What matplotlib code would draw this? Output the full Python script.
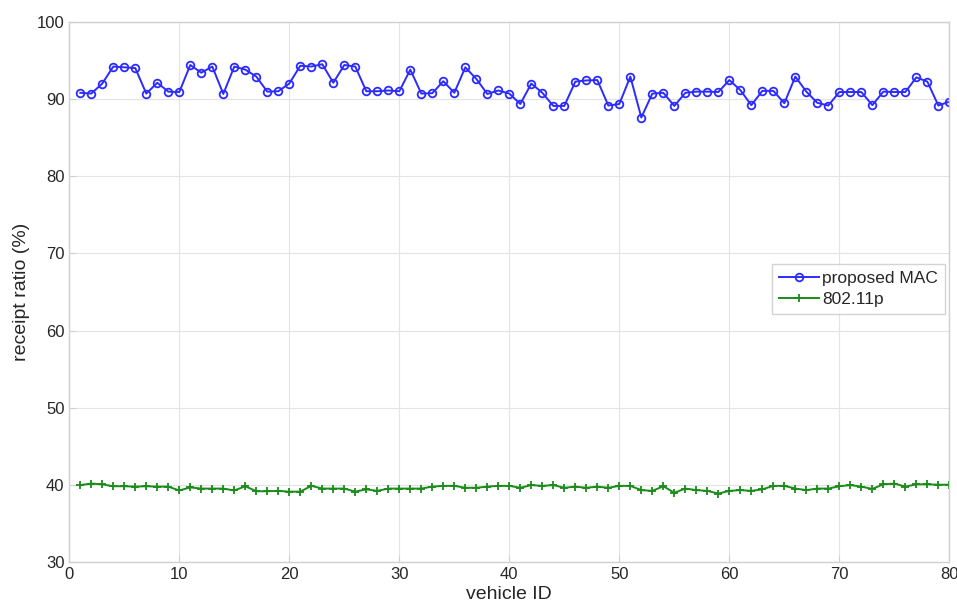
import matplotlib
matplotlib.use("Agg")
import matplotlib.pyplot as plt

plt.rcParams['font.family'] = ['Liberation Sans', 'DejaVu Sans']

vehicle_id = list(range(1, 81))

proposed_mac = [
    90.8, 90.7, 92.0, 94.2, 94.1, 94.0, 90.7, 92.1, 90.95, 90.9,
    94.4, 93.4, 94.2, 90.65, 94.2, 93.8, 92.9, 90.95, 91.0, 92.0,
    94.3, 94.2, 94.5, 92.1, 94.4, 94.2, 91.0, 91.0, 91.1, 91.0,
    93.8, 90.7, 90.75, 92.3, 90.8, 94.1, 92.6, 90.65, 91.1, 90.7,
    89.35, 92.0, 90.8, 89.1, 89.1, 92.25, 92.4, 92.45, 89.15, 89.35,
    92.9, 87.6, 90.7, 90.8, 89.1, 90.8, 90.95, 90.95, 90.9, 92.45,
    91.15, 89.2, 91.05, 91.05, 89.45, 92.9, 90.95, 89.5, 89.15, 90.9,
    90.9, 90.9, 89.2, 90.95, 90.9, 90.9, 92.8, 92.25, 89.15, 89.65,
]

ieee_80211p = [
    40.0, 40.2, 40.1, 39.85, 39.85, 39.8, 39.85, 39.8, 39.8, 39.3,
    39.7, 39.55, 39.55, 39.55, 39.3, 39.85, 39.2, 39.2, 39.25, 39.15,
    39.15, 39.9, 39.55, 39.55, 39.55, 39.15, 39.45, 39.25, 39.55, 39.55,
    39.55, 39.55, 39.8, 39.9, 39.9, 39.65, 39.65, 39.8, 39.9, 39.9,
    39.65, 40.0, 39.9, 40.0, 39.65, 39.8, 39.65, 39.8, 39.65, 39.9,
    39.9, 39.35, 39.25, 39.85, 39.0, 39.55, 39.35, 39.25, 38.9, 39.25,
    39.35, 39.25, 39.45, 39.9, 39.9, 39.55, 39.35, 39.55, 39.55, 39.85,
    40.0, 39.8, 39.5, 40.1, 40.2, 39.8, 40.1, 40.1, 40.05, 40.05,
]

x_ticks = [0, 10, 20, 30, 40, 50, 60, 70, 80]
y_ticks = [30, 40, 50, 60, 70, 80, 90, 100]

fig = plt.figure(figsize=(9.57, 6.06), dpi=100)
ax = fig.add_axes([0.0724, 0.0721, 0.9196, 0.892])

ax.plot(vehicle_id, proposed_mac, color='#2b2bff', linewidth=1.4,
        marker='o', markersize=5.5, markerfacecolor='none',
        markeredgewidth=1.3, label='proposed MAC')
ax.plot(vehicle_id, ieee_80211p, color='#1a8c1a', linewidth=1.4,
        marker='+', markersize=6, markeredgewidth=1.3, label='802.11p')

ax.set_xlim(0, 80)
ax.set_ylim(30, 100)
ax.set_xticks(x_ticks)
ax.set_yticks(y_ticks)
ax.grid(True, color='#e3e3e3', linewidth=0.8)
ax.set_axisbelow(True)

for s in ax.spines.values():
    s.set_color('#d0d0d0')
    s.set_linewidth(1.0)
ax.tick_params(direction='in', length=5, color='#d0d0d0',
               labelsize=12, labelcolor='#262626', top=False, right=False)

ax.set_xlabel('vehicle ID', fontsize=14, color='#262626', labelpad=3)
ax.set_ylabel('receipt ratio (%)', fontsize=14, color='#262626', labelpad=5)

leg = ax.legend(loc='upper right', bbox_to_anchor=(0.995, 0.552),
                fontsize=12.5, frameon=True, fancybox=False,
                borderpad=0.4, handlelength=2.3, handletextpad=0.2,
                labelspacing=0.35, borderaxespad=0)
leg.get_frame().set_edgecolor('#c8c8c8')
leg.get_frame().set_linewidth(1.0)
for t in leg.get_texts():
    t.set_color('#262626')

fig.savefig('out.png', dpi=100)
